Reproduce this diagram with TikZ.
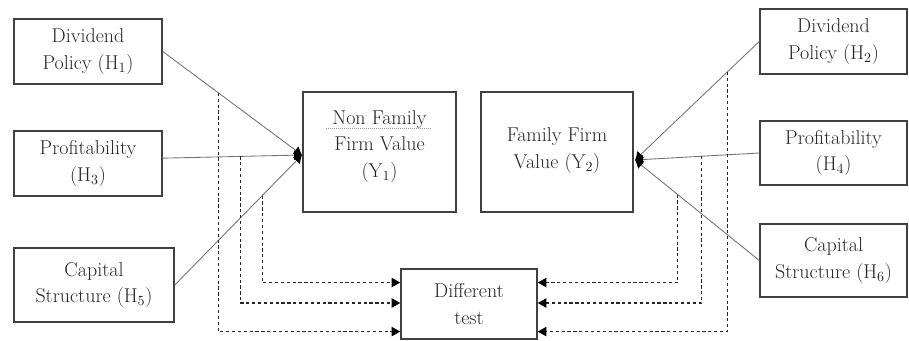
\documentclass[tikz,border=0pt]{standalone}
\usepackage{tikz}
\usetikzlibrary{arrows.meta}
\usetikzlibrary{calc}

\tikzset{
  box/.style={draw=black!75,line width=1.1pt,fill=white,align=center,inner sep=0pt,
    font=\fontsize{15}{20}\selectfont,text=black!85},
  link/.style={draw=black!55,line width=0.65pt,-{Latex[length=6pt,width=7.5pt,black]}},
  dline/.style={draw=black!85,line width=1pt,dash pattern={on 2.4pt off 2pt},
    -{Triangle[length=6.5pt,width=7pt,black]}},
}

\begin{document}
\begin{tikzpicture}[x=0.75pt,y=0.75pt,yscale=-1,xscale=1]
\useasboundingbox (0,0) rectangle (909,341);

% Text Node: left boxes
\node[box,minimum width=111pt,minimum height=48.75pt] (h1) at (88,51.5) {Dividend\\Policy (H\textsubscript{1})};
\node[box,minimum width=111pt,minimum height=48.75pt] (h3) at (88,163.5) {Profitability\\(H\textsubscript{3})};
\node[box,minimum width=120pt,minimum height=55.5pt] (h5) at (94,285) {Capital\\Structure (H\textsubscript{5})};

% Text Node: firm value boxes (empty last line lifts the text a bit)
\node[box,minimum width=114.75pt,minimum height=90pt] (nf) at (379.5,152) {Non Family\\Firm Value\\(Y\textsubscript{1})\\[-8pt]\mbox{}};
\node[box,minimum width=114pt,minimum height=90pt] (ff) at (557,152) {Family Firm\\Value (Y\textsubscript{2})\\[-14pt]\mbox{}};
\node[box,minimum width=102pt,minimum height=52.5pt] (dt) at (469,304) {Different\\test};

% Text Node: right boxes
\node[box,minimum width=110.25pt,minimum height=48.75pt] (h2) at (833.5,41.5) {Dividend\\Policy (H\textsubscript{2})};
\node[box,minimum width=110.25pt,minimum height=48pt] (h4) at (833.5,153) {Profitability\\(H\textsubscript{4})};
\node[box,minimum width=110.25pt,minimum height=54.75pt] (h6) at (833.5,260.5) {Capital\\Structure (H\textsubscript{6})};

% spell check line under the title
\draw [blue!45,densely dotted,line width=0.5pt] (326,128) -- (431,128) ;

% junctions next to the value boxes
\coordinate (jl) at (302,155);
\coordinate (jr) at (635,160);

%Straight Lines: hypotheses, left
\draw [link] (h1.east) -- (jl) coordinate[pos=0.4] (d1);
\draw [link] ($(h3.north east)!0.42!(h3.south east)$) -- (jl) coordinate[pos=0.557] (d3);
\draw [link] (h5.east) -- (jl) coordinate[pos=0.6875] (d5);

%Straight Lines: hypotheses, right
\draw [link] (h2.west) -- (jr) coordinate[pos=0.256] (d2);
\draw [link] (h4.west) -- (jr) coordinate[pos=0.464] (d4);
\draw [link] (h6.west) -- (jr) coordinate[pos=0.656] (d6);

%Dashed Lines: into the test box
\draw [dline] (d5) |- ($(dt.north west)!0.2!(dt.south west)$) ;
\draw [dline] (d3) |- ($(dt.north west)!0.486!(dt.south west)$) ;
\draw [dline] (d1) |- ($(dt.north west)!0.886!(dt.south west)$) ;
\draw [dline] (d6) |- ($(dt.north east)!0.2!(dt.south east)$) ;
\draw [dline] (d4) |- ($(dt.north east)!0.486!(dt.south east)$) ;
\draw [dline] (d2) |- ($(dt.north east)!0.886!(dt.south east)$) ;

\end{tikzpicture}
\end{document}
